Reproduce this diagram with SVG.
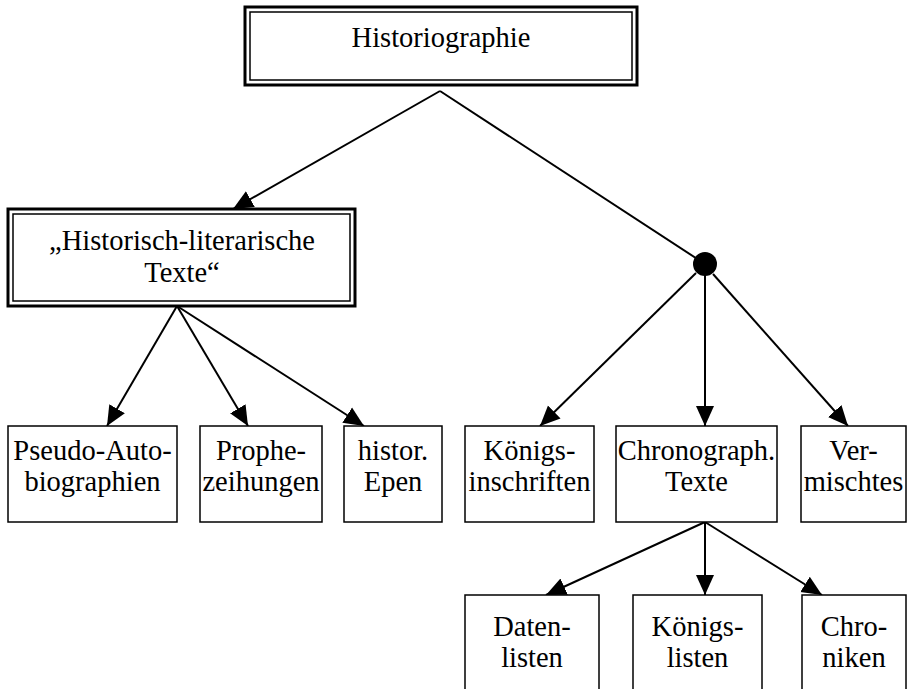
<svg xmlns="http://www.w3.org/2000/svg" width="908" height="689" viewBox="0 0 908 689">
<defs>
<marker id="ah" viewBox="0 0 20 20" refX="20" refY="10" markerWidth="20" markerHeight="20" markerUnits="userSpaceOnUse" orient="auto">
<path d="M0,1 L20,10 L0,19 Z" fill="#000"/>
</marker>
<style>
text{font-family:"Liberation Serif","Times New Roman",serif;font-size:28.5px;fill:#000;text-anchor:middle}
.box{fill:#fff;stroke:#000;stroke-width:1.5}
.outer{fill:#fff;stroke:#000;stroke-width:3}
.inner{fill:none;stroke:#000;stroke-width:1.5}
.edge{stroke:#000;stroke-width:2;fill:none;marker-end:url(#ah)}
.plain{stroke:#000;stroke-width:2;fill:none}
</style>
</defs>
<rect width="908" height="689" fill="#fff"/>
<g id="connectors">
<line class="edge" x1="440" y1="91" x2="233" y2="209"/>
<line class="plain" x1="440" y1="91" x2="705" y2="264"/>
<line class="edge" x1="696" y1="273" x2="540" y2="426"/>
<line class="edge" x1="705" y1="264" x2="705" y2="426"/>
<line class="edge" x1="713" y1="274" x2="848" y2="426"/>
<line class="edge" x1="177" y1="306" x2="107" y2="426"/>
<line class="edge" x1="177" y1="306" x2="248" y2="426"/>
<line class="edge" x1="177" y1="306" x2="364" y2="426"/>
<line class="edge" x1="705" y1="522" x2="546" y2="595"/>
<line class="edge" x1="705" y1="522" x2="705" y2="595"/>
<line class="edge" x1="705" y1="522" x2="822" y2="595"/>
</g>
<g id="historiographie">
<rect class="outer" x="245" y="7" width="392" height="78"/>
<rect class="inner" x="250" y="12" width="382" height="68"/>
<text x="441" y="47">Historiographie</text>
</g>
<g id="historisch-literarische">
<rect class="outer" x="8" y="209" width="347" height="97"/>
<rect class="inner" x="13" y="214" width="337" height="87"/>
<text x="182" y="250">„Historisch-literarische</text>
<text x="182" y="282">Texte“</text>
</g>
<g id="junction">
<circle cx="705" cy="264" r="12" fill="#000"/>
</g>
<g id="pseudo-autobiographien">
<rect class="box" x="8" y="426" width="169" height="96"/>
<text x="92.5" y="460">Pseudo-Auto-</text>
<text x="92.5" y="491">biographien</text>
</g>
<g id="prophezeihungen">
<rect class="box" x="200" y="426" width="122" height="96"/>
<text x="261" y="460">Prophe-</text>
<text x="261" y="491">zeihungen</text>
</g>
<g id="histor-epen">
<rect class="box" x="344" y="426" width="98" height="96"/>
<text x="393" y="460">histor.</text>
<text x="393" y="491">Epen</text>
</g>
<g id="koenigsinschriften">
<rect class="box" x="465" y="426" width="129" height="96"/>
<text x="529.5" y="460">Königs-</text>
<text x="529.5" y="491">inschriften</text>
</g>
<g id="chronograph-texte">
<rect class="box" x="616" y="426" width="161" height="96"/>
<text x="696.5" y="460">Chronograph.</text>
<text x="696.5" y="491">Texte</text>
</g>
<g id="vermischtes">
<rect class="box" x="801" y="426" width="105" height="96"/>
<text x="853.5" y="460">Ver-</text>
<text x="853.5" y="491">mischtes</text>
</g>
<g id="datenlisten">
<rect class="box" x="465" y="595" width="134" height="110"/>
<text x="532" y="636">Daten-</text>
<text x="532" y="667">listen</text>
</g>
<g id="koenigslisten">
<rect class="box" x="633" y="595" width="129" height="110"/>
<text x="697.5" y="636">Königs-</text>
<text x="697.5" y="667">listen</text>
</g>
<g id="chroniken">
<rect class="box" x="802" y="595" width="104" height="110"/>
<text x="854" y="636">Chro-</text>
<text x="854" y="667">niken</text>
</g>
</svg>
